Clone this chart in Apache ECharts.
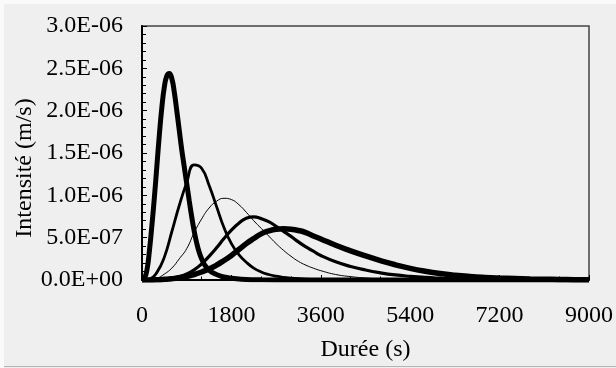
<!DOCTYPE html>
<html>
<head>
<meta charset="utf-8">
<script src="https://cdn.jsdelivr.net/npm/echarts@6/dist/echarts.min.js"></script>
<style>
  html, body { margin: 0; padding: 0; background: #efefef; }
  #chart {
    width: 616px;
    height: 368px;
    background:
      linear-gradient(#fafafa, #fafafa) top / 100% 4px no-repeat,
      linear-gradient(#fafafa, #fafafa) left / 4px 100% no-repeat,
      linear-gradient(#b4b4b4, #b4b4b4) 0 366px / 100% 1px no-repeat,
      #efefef;
  }
</style>
</head>
<body>
<div id="chart"></div>
<script>
// valeurs, intensité en 1E-06 m/s
const SCALE = 1e-6;

// courbe 1 (la plus pointue), pas de temps plus fin
const t1 = [0, 50, 100, 150, 200, 250, 300, 350, 400, 450, 500, 550, 600, 650, 700, 750,
  800, 850, 900, 950, 1000, 1050, 1100, 1150, 1200, 1250, 1300, 1350, 1400, 1450, 1500,
  1650, 1800, 2000, 2400, 3000, 9000];
const c1 = [0, 0.02, 0.12, 0.35, 0.65, 0.98, 1.35, 1.72, 2.04, 2.28, 2.41, 2.44, 2.38, 2.22, 2.0, 1.77,
  1.54, 1.34, 1.14, 0.94, 0.75, 0.58, 0.44, 0.33, 0.25, 0.19, 0.15, 0.12, 0.095, 0.078, 0.065,
  0.035, 0.02, 0.01, 0.003, 0.001, 0];

// temps commun aux courbes 2 à 5 (s)
const t = [0, 150, 300, 450, 600, 750, 900, 1050, 1200, 1350, 1500, 1650, 1800, 1950, 2100,
  2250, 2400, 2550, 2700, 2850, 3000, 3150, 3300, 3450, 3600,
  3900, 4200, 4500, 4800, 5100, 5400, 5700, 6000, 6300, 6600, 6900, 7200, 7500, 7800, 8100, 8400, 8700, 9000];

const c2 = [0, 0.01, 0.09, 0.27, 0.57, 0.88, 1.15, 1.36, 1.32, 1.12, 0.87, 0.62, 0.43, 0.3, 0.21,
  0.14, 0.095, 0.065, 0.045, 0.031, 0.022, 0.015, 0.01, 0.007, 0.005,
  0.002, 0.001, 0, 0, 0, 0, 0, 0, 0, 0, 0, 0, 0, 0, 0, 0, 0, 0];

const c3 = [0, 0.005, 0.02, 0.07, 0.14, 0.25, 0.37, 0.56, 0.72, 0.85, 0.93, 0.965, 0.95, 0.89, 0.8,
  0.7, 0.61, 0.52, 0.43, 0.35, 0.28, 0.22, 0.175, 0.14, 0.11,
  0.065, 0.04, 0.024, 0.014, 0.008, 0.005, 0.003, 0.002, 0.001, 0, 0, 0, 0, 0, 0, 0, 0, 0];

const c4 = [0, 0.001, 0.004, 0.01, 0.022, 0.04, 0.07, 0.12, 0.19, 0.28, 0.38, 0.49, 0.59, 0.67, 0.73,
  0.745, 0.725, 0.69, 0.635, 0.575, 0.515, 0.45, 0.39, 0.34, 0.29,
  0.215, 0.16, 0.118, 0.085, 0.06, 0.043, 0.03, 0.021, 0.014, 0.01, 0.007, 0.005, 0.003, 0.002, 0.001, 0.001, 0, 0];

const c5 = [0, 0.001, 0.003, 0.008, 0.015, 0.026, 0.042, 0.065, 0.095, 0.13, 0.175, 0.23, 0.29, 0.36, 0.43,
  0.49, 0.545, 0.58, 0.6, 0.605, 0.6, 0.585, 0.56, 0.52, 0.485,
  0.41, 0.345, 0.285, 0.23, 0.18, 0.138, 0.104, 0.077, 0.057, 0.042, 0.031, 0.023, 0.017, 0.012, 0.009, 0.006, 0.004, 0.003];

// épaisseur des traits de chaque courbe
const curves = [
  { x: t1, y: c1, width: 5 },
  { x: t, y: c2, width: 2.8 },
  { x: t, y: c3, width: 1 },
  { x: t, y: c4, width: 3.2 },
  { x: t, y: c5, width: 5.5 }
];

const FONT = "'Liberation Serif', 'Times New Roman', serif";

// 3.0E-06, 0.0E+00 ...
function sciLabel(v) {
  const parts = v.toExponential(1).split('e');
  const e = parseInt(parts[1], 10);
  return parts[0] + 'E' + (e < 0 ? '-' : '+') + String(Math.abs(e)).padStart(2, '0');
}

const chart = echarts.init(document.getElementById('chart'), null, { renderer: 'canvas' });

chart.setOption({
  backgroundColor: 'transparent',
  animation: false,
  grid: {
    left: 142,
    right: 27,
    top: 26,
    bottom: 88,
    show: true,
    borderColor: '#444',
    borderWidth: 1.5,
    backgroundColor: 'transparent'
  },
  xAxis: {
    type: 'value',
    min: 0,
    max: 9000,
    interval: 1800,
    name: 'Durée (s)',
    nameLocation: 'middle',
    nameGap: 58,
    nameMoveOverlap: false,
    nameTextStyle: { fontFamily: FONT, fontSize: 24, color: '#000' },
    axisLine: { show: true, lineStyle: { color: '#000', width: 2 } },
    axisTick: { show: true, inside: true, length: 5, lineStyle: { color: '#000', width: 1 } },
    minorTick: { show: true, splitNumber: 3, length: 3.5, lineStyle: { color: '#000', width: 1 } },
    splitLine: { show: false },
    axisLabel: {
      fontFamily: FONT,
      fontSize: 24,
      color: '#000',
      margin: 24,
      formatter: function (v) { return String(v); }
    }
  },
  yAxis: {
    type: 'value',
    min: 0,
    max: 3e-6,
    interval: 5e-7,
    name: 'Intensité (m/s)',
    nameLocation: 'middle',
    nameGap: 105,
    nameMoveOverlap: false,
    nameTextStyle: { fontFamily: FONT, fontSize: 24, color: '#000', padding: [0, 30, 0, 0] },
    axisLine: { show: true, lineStyle: { color: '#000', width: 2 } },
    axisTick: { show: true, inside: true, length: 5, lineStyle: { color: '#000', width: 1 } },
    minorTick: { show: true, splitNumber: 5, length: 4, lineStyle: { color: '#000', width: 1 } },
    splitLine: { show: false },
    axisLabel: {
      fontFamily: FONT,
      fontSize: 24,
      color: '#000',
      margin: 19,
      formatter: sciLabel
    }
  },
  series: curves.map(function (c) {
    return {
      type: 'line',
      data: c.x.map(function (x, i) { return [x, c.y[i] * SCALE]; }),
      showSymbol: false,
      smooth: true,
      lineStyle: { color: '#000', width: c.width },
      itemStyle: { color: '#000' }
    };
  })
});
</script>
</body>
</html>
